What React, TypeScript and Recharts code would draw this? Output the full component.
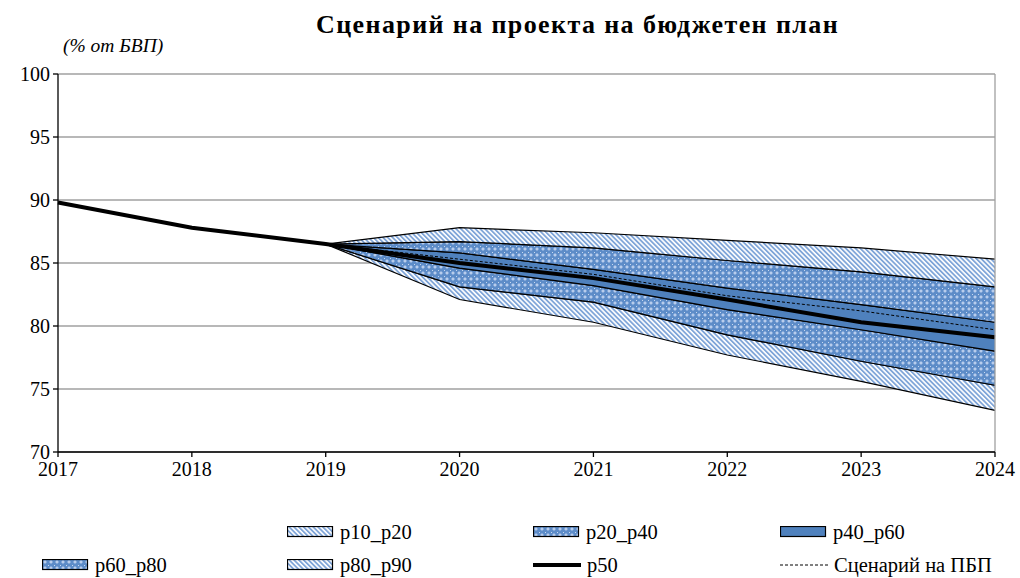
import React from 'react';
import { ComposedChart, Area, Line, XAxis, YAxis, CartesianGrid, ReferenceLine } from 'recharts';

const years = [2017, 2018, 2019, 2020, 2021, 2022, 2023, 2024];
const p10 = [null, null, 86.5, 82.1, 80.3, 77.7, 75.6, 73.3];
const p20 = [null, null, 86.5, 83.1, 81.9, 79.3, 77.2, 75.3];
const p40 = [null, null, 86.5, 84.6, 83.2, 81.3, 79.7, 78.0];
const p60 = [null, null, 86.5, 85.8, 84.5, 83.0, 81.7, 80.3];
const p80 = [null, null, 86.5, 86.7, 86.2, 85.2, 84.3, 83.1];
const p90 = [null, null, 86.5, 87.8, 87.4, 86.8, 86.2, 85.3];
const p50 = [89.8, 87.8, 86.5, 85.0, 83.8, 82.1, 80.3, 79.1];
const scenario = [null, null, 86.5, 85.3, 84.1, 82.4, 81.2, 79.7];
const yTicks = [70, 75, 80, 85, 90, 95, 100];

const band = (lo: (number | null)[], hi: (number | null)[], i: number) =>
  lo[i] == null || hi[i] == null ? null : [lo[i], hi[i]];

const data = years.map((year, i) => ({
  year,
  p10_p20: band(p10, p20, i),
  p20_p40: band(p20, p40, i),
  p40_p60: band(p40, p60, i),
  p60_p80: band(p60, p80, i),
  p80_p90: band(p80, p90, i),
  p50: p50[i],
  scenario: scenario[i],
}));

const FONT = "'Liberation Serif', Tinos, 'Times New Roman', 'DejaVu Serif', serif";
const BLUE = '#4f81bd';

const Patterns = () => (
  <svg width={0} height={0} style={{ position: 'absolute' }}>
    <defs>
      <pattern id="hatch" width="3.4" height="3.4" patternUnits="userSpaceOnUse" patternTransform="rotate(-45)">
        <rect width="3.4" height="3.4" fill="#ffffff" />
        <rect width="1.8" height="3.4" fill="#7fa5d8" />
      </pattern>
      <pattern id="check" width="6" height="6" patternUnits="userSpaceOnUse">
        <rect width="6" height="6" fill="#5d8cc8" />
        <path d="M3 1 L5 3 L3 5 L1 3 Z" fill="#a9c3e8" />
        <rect x="2.5" y="2.5" width="1" height="1" fill="#e4ecf8" />
        <rect x="0" y="0" width="1" height="1" fill="#c7d8ef" />
      </pattern>
    </defs>
  </svg>
);

const Swatch = ({ fill }: { fill: string }) => (
  <svg width={47} height={12} style={{ display: 'block' }}>
    <rect x={0.5} y={0.5} width={45} height={10} fill={fill} stroke="#000" strokeWidth={1.2} />
  </svg>
);

const LineIcon = ({ dashed }: { dashed?: boolean }) => (
  <svg width={48} height={12} style={{ display: 'block' }}>
    <line x1={0} y1={6} x2={48} y2={6} stroke="#000" strokeWidth={dashed ? 1 : 4} strokeDasharray={dashed ? '3 2' : undefined} />
  </svg>
);

const legendItems = [
  { label: 'p10_p20', x: 287, y: 532, icon: <Swatch fill="url(#hatch)" /> },
  { label: 'p20_p40', x: 533, y: 532, icon: <Swatch fill="url(#check)" /> },
  { label: 'p40_p60', x: 780, y: 532, icon: <Swatch fill={BLUE} /> },
  { label: 'p60_p80', x: 42, y: 565, icon: <Swatch fill="url(#check)" /> },
  { label: 'p80_p90', x: 287, y: 565, icon: <Swatch fill="url(#hatch)" /> },
  { label: 'p50', x: 533, y: 565, icon: <LineIcon /> },
  { label: 'Сценарий на ПБП', x: 780, y: 565, icon: <LineIcon dashed /> },
];

const bandKeys = ['p10_p20', 'p20_p40', 'p40_p60', 'p60_p80', 'p80_p90'];
const bandFill: Record<string, string> = {
  p10_p20: 'url(#hatch)',
  p20_p40: 'url(#check)',
  p40_p60: BLUE,
  p60_p80: 'url(#check)',
  p80_p90: 'url(#hatch)',
};

export default function App() {
  return (
    <div style={{ position: 'absolute', left: 0, top: 0, width: 1020, height: 578, background: '#fff', fontFamily: FONT }}>
      <Patterns />
      <div style={{ position: 'absolute', left: 316, top: 10, fontWeight: 'bold', fontSize: 26, letterSpacing: 1.4, whiteSpace: 'nowrap' }}>
        Сценарий на проекта на бюджетен план
      </div>
      <div style={{ position: 'absolute', left: 63, top: 35, fontStyle: 'italic', fontSize: 19.5, whiteSpace: 'nowrap' }}>(% от БВП)</div>

      <ComposedChart width={1020} height={578} data={data} margin={{ top: 74, right: 25, bottom: 96, left: 0 }}>
        <CartesianGrid vertical={false} stroke="#a0a0a0" strokeWidth={1.3} />
        {bandKeys.map((k) => (
          <Area
            key={k}
            dataKey={k}
            type="linear"
            fill={bandFill[k]}
            fillOpacity={1}
            stroke="#000"
            strokeWidth={1.2}
            dot={false}
            activeDot={false}
            isAnimationActive={false}
          />
        ))}
        <Line dataKey="p50" type="linear" stroke="#000" strokeWidth={4} dot={false} activeDot={false} isAnimationActive={false} />
        <Line dataKey="scenario" type="linear" stroke="#000" strokeWidth={1} strokeDasharray="3 2" dot={false} activeDot={false} isAnimationActive={false} />
        <ReferenceLine x={2024} stroke="#a0a0a0" strokeWidth={1.3} />
        <XAxis
          dataKey="year"
          type="number"
          domain={[2017, 2024]}
          ticks={years}
          height={30}
          axisLine={{ stroke: '#000', strokeWidth: 1.3 }}
          tickLine={{ stroke: '#000', strokeWidth: 1.3 }}
          tickSize={5}
          tickMargin={5}
          tick={{ fill: '#000', fontSize: 20, fontFamily: FONT }}
        />
        <YAxis
          domain={[70, 100]}
          ticks={yTicks}
          width={58}
          axisLine={{ stroke: '#000', strokeWidth: 1.3 }}
          tickLine={{ stroke: '#000', strokeWidth: 1.3 }}
          tickSize={5}
          tickMargin={3}
          tick={{ fill: '#000', fontSize: 20, fontFamily: FONT }}
        />
      </ComposedChart>

      {legendItems.map((it) => (
        <div key={it.label} style={{ position: 'absolute', left: it.x, top: it.y - 12, height: 24, display: 'flex', alignItems: 'center', fontSize: 20.5, whiteSpace: 'nowrap' }}>
          {it.icon}
          <span style={{ marginLeft: 6 }}>{it.label}</span>
        </div>
      ))}
    </div>
  );
}
